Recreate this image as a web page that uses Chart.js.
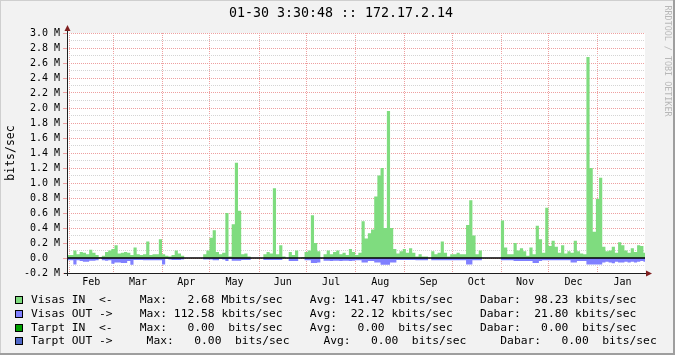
<!DOCTYPE html>
<html>
<head>
<meta charset="utf-8">
<script src="https://cdn.jsdelivr.net/npm/chart.js@4.4.1/dist/chart.umd.min.js"></script>
<style>
  html, body { margin: 0; padding: 0; background: #f2f2f2; }
  canvas { display: block; }
</style>
</head>
<body>
<canvas id="traffic" width="675" height="355"></canvas>
<script>
// values in Mbit/s, one value per two days, starting 01-30 a year back
const visasIn = [
    0.04, 0.04, 0.10, 0.05, 0.08, 0.07, 0.05, 0.11, 0.07, 0.04,
    0.01, 0.03, 0.08, 0.10, 0.12, 0.17, 0.06, 0.07, 0.08, 0.07,
    0.04, 0.14, 0.05, 0.04, 0.05, 0.22, 0.04, 0.05, 0.05, 0.25,
    0.05, 0.03, 0.02, 0.04, 0.10, 0.06, 0.03, 0, 0, 0,
    0, 0, 0, 0.05, 0.10, 0.27, 0.37, 0.08, 0.05, 0.07,
    0.60, 0.02, 0.45, 1.27, 0.63, 0.05, 0.06, 0.02, 0, 0,
    0, 0, 0.05, 0.08, 0.06, 0.93, 0.05, 0.17, 0.02, 0,
    0.08, 0.04, 0.10, 0, 0.01, 0.08, 0.10, 0.57, 0.20, 0.09,
    0, 0.05, 0.10, 0.05, 0.08, 0.10, 0.05, 0.07, 0.04, 0.12,
    0.08, 0.04, 0.07, 0.49, 0.26, 0.33, 0.38, 0.82, 1.10, 1.20,
    0.40, 1.96, 0.40, 0.12, 0.06, 0.09, 0.12, 0.07, 0.13, 0.07,
    0.02, 0.05, 0.02, 0.02, 0, 0.09, 0.05, 0.07, 0.22, 0.07,
    0.02, 0.05, 0.05, 0.07, 0.05, 0.05, 0.44, 0.77, 0.30, 0.05,
    0.10, 0, 0, 0, 0, 0, 0, 0.50, 0.14, 0.05,
    0.05, 0.20, 0.10, 0.13, 0.09, 0.03, 0.14, 0.05, 0.43, 0.25,
    0.07, 0.67, 0.16, 0.23, 0.15, 0.07, 0.17, 0.06, 0.09, 0.07,
    0.23, 0.09, 0.06, 0.05, 2.68, 1.20, 0.35, 0.79, 1.07, 0.15,
    0.09, 0.10, 0.15, 0.07, 0.21, 0.17, 0.10, 0.07, 0.13, 0.08,
    0.17, 0.16, 0.07
];
const visasOut = [
    -0.03, -0.03, -0.085, -0.03, -0.04, -0.05, -0.05, -0.035, -0.035, -0.03,
    0, -0.03, -0.035, -0.03, -0.075, -0.06, -0.06, -0.065, -0.065, -0.04,
    -0.09, -0.025, -0.025, -0.025, -0.03, -0.03, -0.03, -0.03, -0.03, -0.03,
    -0.085, -0.01, -0.02, -0.025, -0.025, -0.025, -0.02, 0, 0, 0,
    0, 0, 0, -0.02, -0.02, -0.02, -0.03, -0.03, -0.01, -0.02,
    -0.04, -0.01, -0.035, -0.035, -0.035, -0.025, -0.025, -0.025, 0, 0,
    0, 0, -0.025, -0.025, -0.025, -0.025, -0.025, -0.025, 0, 0,
    -0.04, -0.04, -0.04, 0, 0, -0.03, -0.03, -0.065, -0.065, -0.06,
    0, -0.035, -0.035, -0.04, -0.035, -0.035, -0.04, -0.035, -0.035, -0.04,
    -0.035, -0.03, -0.03, -0.06, -0.06, -0.04, -0.04, -0.06, -0.06, -0.09,
    -0.09, -0.09, -0.06, -0.06, -0.025, -0.025, -0.025, -0.025, -0.025, -0.025,
    -0.03, -0.03, -0.03, -0.03, 0, -0.03, -0.03, -0.03, -0.03, -0.03,
    -0.03, -0.03, -0.03, -0.03, -0.03, -0.03, -0.085, -0.085, -0.03, -0.03,
    -0.03, 0, 0, 0, 0, 0, 0, -0.03, -0.03, -0.03,
    -0.03, -0.04, -0.04, -0.04, -0.04, -0.04, -0.04, -0.065, -0.065, -0.04,
    -0.03, -0.03, -0.03, -0.03, -0.03, -0.03, -0.03, -0.03, -0.03, -0.06,
    -0.06, -0.04, -0.04, -0.04, -0.085, -0.085, -0.085, -0.085, -0.085, -0.06,
    -0.05, -0.06, -0.07, -0.05, -0.06, -0.06, -0.05, -0.06, -0.05, -0.06,
    -0.05, -0.04, -0.05
];

// month boundaries in days since the start of the graph
const monthStarts = [1.3, 29.3, 60.3, 90.3, 121.3, 151.3, 182.3, 213.3, 243.3, 274.3, 304.3, 335.3, 366.3];
const monthNames = ['Feb', 'Mar', 'Apr', 'May', 'Jun', 'Jul', 'Aug', 'Sep', 'Oct', 'Nov', 'Dec', 'Jan'];
const spanDays = 365;

const titleText = '01-30 3:30:48 :: 172.17.2.14';
const legendRows = [
    ['#7fdc7f', 'Visas IN  <-    Max:   2.68 Mbits/sec    Avg: 141.47 kbits/sec    Dabar:  98.23 kbits/sec'],
    ['#8080ff', 'Visas OUT ->    Max: 112.58 kbits/sec    Avg:  22.12 kbits/sec    Dabar:  21.80 kbits/sec'],
    ['#00a000', 'Tarpt IN  <-    Max:   0.00  bits/sec    Avg:   0.00  bits/sec    Dabar:   0.00  bits/sec'],
    ['#5068c8', 'Tarpt OUT ->     Max:   0.00  bits/sec     Avg:   0.00  bits/sec     Dabar:   0.00  bits/sec']
];

const MONO = "'DejaVu Sans Mono', monospace";
const MAJOR = '#eea0a0';
const MINOR = '#d4d4d4';

// each value holds for two days
function steps(values) {
    const pts = values.map((v, i) => ({x: i * 2, y: v}));
    pts.push({x: spanDays, y: values[values.length - 1]});
    return pts;
}

// ticks for the x axis: grid at month starts, labels in the middle of a month
const xTicks = [];
monthStarts.forEach((d, i) => {
    if (d <= spanDays) xTicks.push({value: d, start: true});
    if (i < monthNames.length) {
        xTicks.push({value: (d + monthStarts[i + 1]) / 2, start: false, name: monthNames[i]});
    }
});

const isMajor = v => Math.round(v * 10) % 2 === 0;

// background, axes with arrows, title, legend and the rrdtool stamp
const rrdLook = {
    id: 'rrdLook',
    beforeDraw(chart) {
        const {ctx, chartArea: a} = chart;
        ctx.save();
        ctx.fillStyle = '#f2f2f2';
        ctx.fillRect(0, 0, chart.width, chart.height);
        ctx.fillStyle = '#ffffff';
        ctx.fillRect(a.left, a.top, a.right - a.left, a.bottom - a.top);
        ctx.restore();
    },
    afterDraw(chart) {
        const {ctx, chartArea: a} = chart;
        ctx.save();

        // axes
        ctx.strokeStyle = '#1f1f1f';
        ctx.lineWidth = 1;
        ctx.beginPath();
        ctx.moveTo(a.left + 0.5, a.bottom + 3);
        ctx.lineTo(a.left + 0.5, a.top - 4);
        ctx.moveTo(a.left - 3, a.bottom + 0.5);
        ctx.lineTo(a.right + 3, a.bottom + 0.5);
        ctx.stroke();
        ctx.fillStyle = '#801f1f';
        ctx.beginPath();
        ctx.moveTo(a.left + 0.5, a.top - 8);
        ctx.lineTo(a.left - 2.5, a.top - 2);
        ctx.lineTo(a.left + 3.5, a.top - 2);
        ctx.closePath();
        ctx.fill();
        ctx.beginPath();
        ctx.moveTo(a.right + 7, a.bottom + 0.5);
        ctx.lineTo(a.right + 1, a.bottom - 2.5);
        ctx.lineTo(a.right + 1, a.bottom + 3.5);
        ctx.closePath();
        ctx.fill();

        // title
        ctx.fillStyle = '#000';
        ctx.font = '13.3px ' + MONO;
        ctx.textAlign = 'center';
        ctx.textBaseline = 'middle';
        ctx.fillText(titleText, 341, 14);

        // legend
        ctx.font = '11.3px ' + MONO;
        ctx.textAlign = 'left';
        legendRows.forEach((row, i) => {
            const y = 300 + i * 13.8;
            ctx.fillStyle = row[0];
            ctx.fillRect(16, Math.round(y) - 3, 6, 6);
            ctx.strokeStyle = '#000';
            ctx.strokeRect(15.5, Math.round(y) - 3.5, 7, 7);
            ctx.fillStyle = '#000';
            ctx.fillText(row[1], 31, y);
        });

        // stamp on the right
        ctx.translate(667, 61);
        ctx.rotate(Math.PI / 2);
        ctx.font = '8.4px ' + MONO;
        ctx.textAlign = 'center';
        ctx.fillStyle = '#b8b8b8';
        ctx.fillText('RRDTOOL / TOBI OETIKER', 0, 0);
        ctx.setTransform(1, 0, 0, 1, 0, 0);

        // frame shade
        ctx.fillStyle = '#cfcfcf';
        ctx.fillRect(0, 0, chart.width, 1);
        ctx.fillRect(0, 0, 1, chart.height);
        ctx.fillStyle = '#9e9e9e';
        ctx.fillRect(0, chart.height - 2, chart.width, 2);
        ctx.fillRect(chart.width - 2, 0, 2, chart.height);
        ctx.restore();
    }
};

const ctx = document.getElementById('traffic').getContext('2d');
const traffic = new Chart(ctx, {
    type: 'line',
    data: {
        datasets: [
            {
                label: 'zero',
                data: [{x: 0, y: 0}, {x: spanDays, y: 0}],
                borderColor: '#000000',
                borderWidth: 1.6,
                pointRadius: 0,
                fill: false,
                order: 0
            },
            {
                label: 'Visas IN',
                data: steps(visasIn),
                stepped: true,
                fill: 'origin',
                backgroundColor: '#7fdc7f',
                borderWidth: 0,
                pointRadius: 0,
                order: 1
            },
            {
                label: 'Visas OUT',
                data: steps(visasOut),
                stepped: true,
                fill: 'origin',
                backgroundColor: '#8080ff',
                borderWidth: 0,
                pointRadius: 0,
                order: 2
            }
        ]
    },
    options: {
        responsive: false,
        animation: false,
        devicePixelRatio: 1,
        layout: {padding: {left: 0, right: 30, top: 33, bottom: 0}},
        plugins: {
            legend: {display: false},
            title: {display: false},
            tooltip: {enabled: false}
        },
        scales: {
            x: {
                type: 'linear',
                min: 0,
                max: spanDays,
                afterBuildTicks: scale => { scale.ticks = xTicks.map(t => Object.assign({}, t)); },
                afterFit: scale => { scale.height = 82; },
                border: {display: false, dash: [1, 1]},
                grid: {
                    drawTicks: false,
                    color: c => (c.tick && c.tick.start) ? MAJOR : 'rgba(0,0,0,0)'
                },
                ticks: {
                    autoSkip: false,
                    maxRotation: 0,
                    minRotation: 0,
                    padding: 3,
                    color: '#000',
                    font: {family: MONO, size: 10},
                    callback: (v, i, ticks) => ticks[i].name || ''
                }
            },
            y: {
                min: -0.2,
                max: 3.0,
                afterFit: scale => { scale.width = 67; },
                border: {display: false, dash: [1, 1]},
                grid: {
                    drawTicks: true,
                    tickLength: 4,
                    color: c => isMajor(c.tick.value) ? MAJOR : MINOR,
                    tickColor: c => isMajor(c.tick.value) ? MAJOR : 'rgba(0,0,0,0)'
                },
                ticks: {
                    stepSize: 0.1,
                    autoSkip: false,
                    padding: 3,
                    color: '#000',
                    font: {family: MONO, size: 10},
                    callback: v => {
                        if (!isMajor(v)) return '';
                        if (Math.abs(v) < 1e-9) return '0.0  ';
                        return v.toFixed(1) + ' M';
                    }
                },
                title: {
                    display: true,
                    text: 'bits/sec',
                    color: '#000',
                    font: {family: MONO, size: 11.5},
                    padding: {top: 4, bottom: 0}
                }
            }
        }
    },
    plugins: [rrdLook]
});
</script>
</body>
</html>
